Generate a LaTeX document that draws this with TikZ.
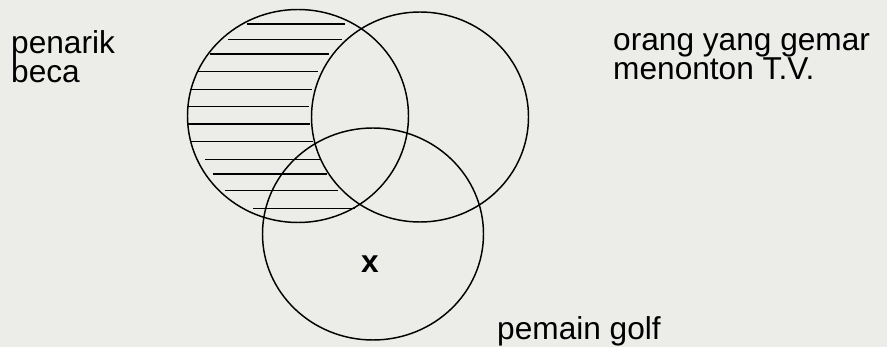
\documentclass[tikz,border=0pt]{standalone}
\usepackage{fontspec}
\setmainfont{Liberation Sans}
\definecolor{bgc}{RGB}{236,236,233}
\begin{document}
\begin{tikzpicture}[x=0.03cm,y=-0.03cm,
  ring/.style={draw=black,line width=1.25pt},
  hatch/.style={draw=black,line width=1.05pt},
  lbl/.style={anchor=base west,inner sep=0pt,font=\fontsize{27}{32}\selectfont}]
\fill[bgc] (0,0) rectangle (887,347);
\useasboundingbox (0,0) rectangle (887,347);
% hatching
\foreach \y/\a/\b in {24/246.7/345, 39.3/228.3/341.7, 54/210/329.3, 71.7/198.3/318.3,
  89.3/190/311.7, 106.7/188.3/309.3, 124/187.3/310, 141.7/190/313.3,
  159.3/205/320, 174/213.3/326.7, 190.7/225/338.3, 208.3/253.3/355}
  \draw[hatch] (\a,\y) -- (\b,\y);
% circles
\draw[ring] (298,116) ellipse [x radius=110.5, y radius=106.5];
\draw[ring] (420,117) ellipse [x radius=108.5, y radius=105];
\draw[ring] (373,234) ellipse [x radius=110.5, y radius=106];
% labels
\node[lbl] (a1) at (11,54) {penarik};
\node[lbl] (a2) at (11,83) {beca};
\node[lbl] (b1) at (613,51) {orang yang gemar};
\node[lbl] (b2) at (613,80) {menonton T.V.};
\node[lbl] (c1) at (497,340) {pemain golf};
\node[anchor=base,inner sep=0pt,font=\fontsize{27}{32}\selectfont\bfseries] (x) at (370,273) {x};
\end{tikzpicture}
\end{document}
